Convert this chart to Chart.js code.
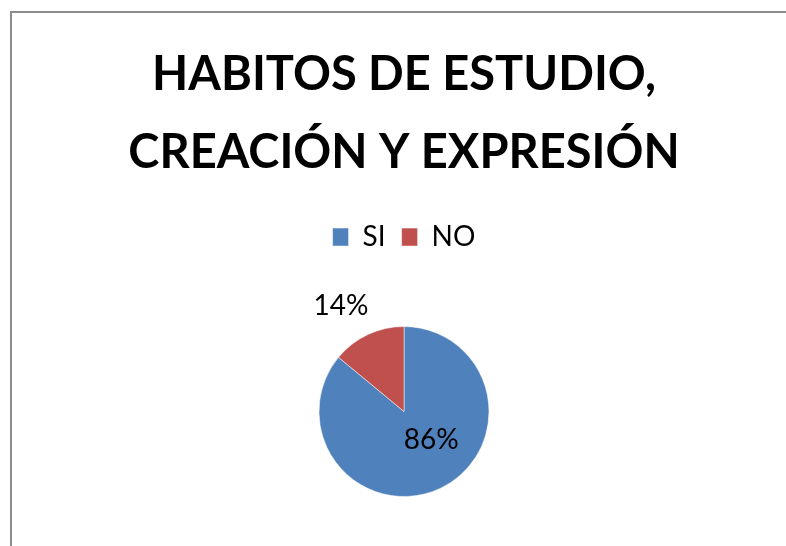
<!DOCTYPE html>
<html>
<head>
<meta charset="utf-8">
<script src="https://cdn.jsdelivr.net/npm/chart.js@4/dist/chart.umd.min.js"></script>
<style>
    html, body { margin: 0; padding: 0; background: #fff; overflow: hidden; }
    #frame {
        position: absolute;
        left: 10px;
        top: 11px;
        width: 800px;
        height: 560px;
        border: 2px solid #8c8c8c;
    }
    /* canvas is a little taller than the page so the pie centre sits lower; the extra strip is cut off */
    #wrap { position: absolute; left: 0; top: 0; width: 786px; height: 546px; overflow: hidden; }
</style>
</head>
<body>
<div id="frame"></div>
<div id="wrap"><canvas id="pieChart" width="786" height="562"></canvas></div>
<script>
// Chart data
const titleLines = ['HABITOS DE ESTUDIO,', 'CREACIÓN Y EXPRESIÓN'];
const categories = ['SI', 'NO'];
const values = [86, 14];
const sliceColors = ['#4F81BD', '#C0504D'];

// Where each percent label sits: fraction of the radius and angle shift (degrees)
const labelRadius = [0.46, 1.45];
const labelAngleShift = [-19, -5.5];

// Draws the percent labels from the arc geometry
const percentLabels = {
    id: 'percentLabels',
    afterDatasetsDraw(chart) {
        const ctx = chart.ctx;
        const meta = chart.getDatasetMeta(0);
        const total = values.reduce((a, b) => a + b, 0);
        ctx.save();
        ctx.font = '28px Lato, "Open Sans", sans-serif';
        ctx.fillStyle = '#000';
        ctx.textAlign = 'center';
        ctx.textBaseline = 'middle';
        meta.data.forEach((arc, i) => {
            const p = arc.getProps(['x', 'y', 'startAngle', 'endAngle', 'outerRadius'], true);
            const mid = (p.startAngle + p.endAngle) / 2 + labelAngleShift[i] * Math.PI / 180;
            const r = p.outerRadius * labelRadius[i];
            const pct = Math.round(values[i] / total * 100) + '%';
            ctx.fillText(pct, p.x + Math.cos(mid) * r, p.y + Math.sin(mid) * r);
        });
        ctx.restore();
    }
};

document.addEventListener('DOMContentLoaded', function() {
    const ctx = document.getElementById('pieChart').getContext('2d');
    new Chart(ctx, {
        type: 'pie',
        data: {
            labels: categories,
            datasets: [{
                data: values,
                backgroundColor: sliceColors,
                borderColor: '#ffffff',
                borderWidth: 0.5
            }]
        },
        options: {
            responsive: false,
            animation: false,
            radius: 85,
            layout: { padding: { left: 22, right: 0, top: 0, bottom: 0 } },
            plugins: {
                title: {
                    display: true,
                    text: titleLines,
                    color: '#000',
                    font: { family: 'Lato, "Open Sans", sans-serif', size: 47, weight: 'bold', lineHeight: 1.66 },
                    padding: { top: 36, bottom: 15 }
                },
                legend: {
                    position: 'top',
                    labels: {
                        boxWidth: 16,
                        boxHeight: 18,
                        padding: 16,
                        color: '#000',
                        font: { family: 'Lato, "Open Sans", sans-serif', size: 28 }
                    }
                },
                tooltip: { enabled: false }
            }
        },
        plugins: [percentLabels]
    });
});
</script>
</body>
</html>
